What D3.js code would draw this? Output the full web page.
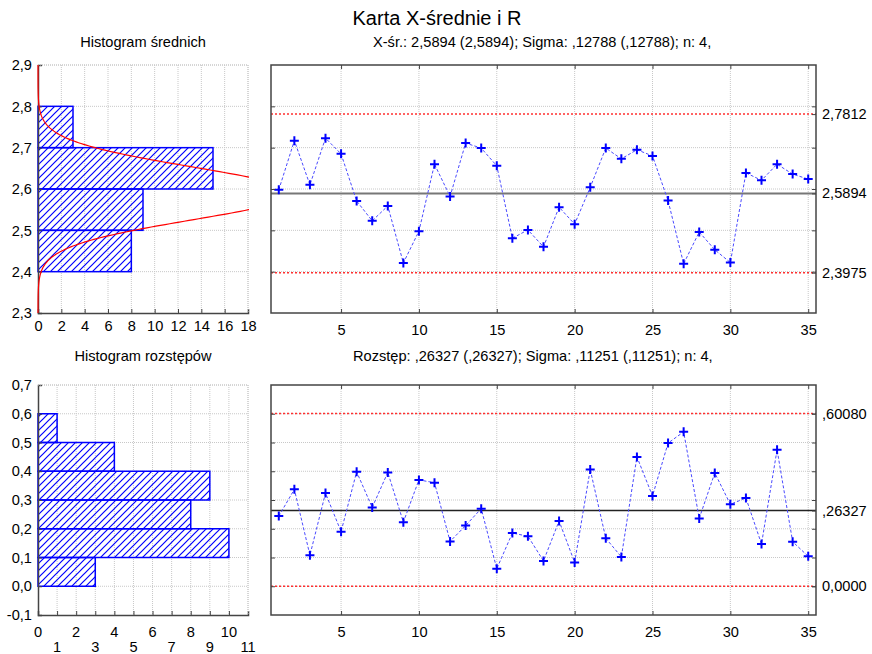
<!DOCTYPE html>
<html>
<head>
<meta charset="utf-8">
<script src="https://cdn.jsdelivr.net/npm/d3@7"></script>
<style>
  body { margin: 0; background: #fff; }
  svg { font-family: "Liberation Sans", Arial, sans-serif; }
</style>
</head>
<body>
<svg id="chart" width="872" height="654"></svg>
<script>
// sample numbers 1..35
const samples = d3.range(1, 36);

// sample means (X-bar)
const means = [2.598, 2.717, 2.610, 2.723, 2.685, 2.571, 2.523, 2.559, 2.421, 2.498,
               2.660, 2.582, 2.711, 2.699, 2.656, 2.481, 2.501, 2.460, 2.556, 2.515,
               2.604, 2.699, 2.673, 2.695, 2.680, 2.572, 2.419, 2.496, 2.453, 2.422,
               2.639, 2.621, 2.660, 2.636, 2.624];

// sample ranges (R)
const ranges = [0.244, 0.337, 0.108, 0.324, 0.190, 0.398, 0.274, 0.396, 0.223, 0.370,
                0.360, 0.156, 0.211, 0.270, 0.061, 0.185, 0.174, 0.088, 0.227, 0.083,
                0.406, 0.167, 0.102, 0.450, 0.314, 0.498, 0.537, 0.236, 0.394, 0.285,
                0.307, 0.147, 0.475, 0.155, 0.104];

// histograms
const meanBinEdges = [2.4, 2.5, 2.6, 2.7, 2.8];
const meanCounts = [8, 9, 15, 3];
const rangeBinEdges = [0, 0.1, 0.2, 0.3, 0.4, 0.5, 0.6];
const rangeCounts = [3, 10, 8, 9, 4, 1];

// control chart parameters
const xbarCenter = 2.5894, xbarUcl = 2.7812, xbarLcl = 2.3975;
const sigma = 0.12788, sampleSize = 4;
const rCenter = 0.26327, rUcl = 0.60080, rLcl = 0;
const xbarLimitLabels = ["2,7812", "2,5894", "2,3975"];
const rLimitLabels = [",60080", ",26327", "0,0000"];

const pl = d3.formatLocale({decimal: ",", thousands: " ", grouping: [3], currency: ["", ""], minus: "-"});
const f1 = pl.format(".1f");

const svg = d3.select("#chart");
const gridColor = "#c8c8c8";
const axisColor = "#444";
const fs = 14.6;

// hatch pattern for histogram bars
svg.append("defs").append("pattern")
    .attr("id", "hatch")
    .attr("patternUnits", "userSpaceOnUse")
    .attr("width", 7).attr("height", 7)
  .append("path")
    .attr("d", "M-1,1 L1,-1 M0,7 L7,0 M6,8 L8,6")
    .attr("stroke", "#0000ff")
    .attr("stroke-width", 1.2);

// titles
svg.append("text").attr("x", 437).attr("y", 25).attr("text-anchor", "middle")
    .attr("font-size", 20).text("Karta X-średnie i R");
svg.append("text").attr("x", 143).attr("y", 47).attr("text-anchor", "middle")
    .attr("font-size", fs).text("Histogram średnich");
svg.append("text").attr("x", 373).attr("y", 47)
    .attr("font-size", fs).text("X-śr.: 2,5894 (2,5894); Sigma: ,12788 (,12788); n: 4,");
svg.append("text").attr("x", 143).attr("y", 361).attr("text-anchor", "middle")
    .attr("font-size", fs).text("Histogram rozstępów");
svg.append("text").attr("x", 353).attr("y", 361)
    .attr("font-size", fs).text("Rozstęp: ,26327 (,26327); Sigma: ,11251 (,11251); n: 4,");

// ---------- helpers ----------
function hGrid(g, y, vals, x0, x1) {
    g.selectAll(null).data(vals).enter().append("line")
        .attr("x1", x0).attr("x2", x1)
        .attr("y1", d => y(d)).attr("y2", d => y(d))
        .attr("stroke", gridColor).attr("stroke-dasharray", "1,1");
}
function vGrid(g, x, vals, y0, y1) {
    g.selectAll(null).data(vals).enter().append("line")
        .attr("x1", d => x(d)).attr("x2", d => x(d))
        .attr("y1", y0).attr("y2", y1)
        .attr("stroke", gridColor).attr("stroke-dasharray", "1,1");
}
function styleAxis(a) {
    a.select(".domain").attr("stroke", axisColor).attr("stroke-width", 1.5);
    a.selectAll(".tick line").attr("stroke", axisColor);
    a.selectAll("text").attr("font-size", fs).attr("fill", "#000")
        .attr("font-family", "Liberation Sans, Arial, sans-serif");
}

// ---------- histogram panel ----------
function histogram(top, bottom, yDomain, yTicks, xMax, xTicks, edges, counts, curve, twoRowLabels) {
    const x = d3.scaleLinear().domain([0, xMax]).range([38, 248]);
    const y = d3.scaleLinear().domain(yDomain).range([bottom, top]);
    const g = svg.append("g");

    hGrid(g, y, yTicks.slice(1), 38, 248);
    vGrid(g, x, xTicks.slice(1), top, bottom);

    g.selectAll("rect.bar").data(counts).enter().append("rect")
        .attr("class", "bar")
        .attr("x", x(0))
        .attr("y", (d, i) => y(edges[i + 1]))
        .attr("width", d => x(d) - x(0))
        .attr("height", (d, i) => y(edges[i]) - y(edges[i + 1]))
        .attr("fill", "url(#hatch)")
        .attr("stroke", "#0000ff").attr("stroke-width", 1.5);

    const ya = g.append("g").attr("transform", "translate(38,0)")
        .call(d3.axisLeft(y).tickValues(yTicks).tickSize(-4).tickPadding(6).tickFormat(f1));
    styleAxis(ya);

    if (twoRowLabels) {
        const xa = g.append("g").attr("transform", `translate(0,${bottom})`)
            .call(d3.axisBottom(x).tickValues(xTicks).tickSize(-4).tickFormat(""));
        styleAxis(xa);
        g.selectAll(null).data(xTicks).enter().append("text")
            .attr("x", d => x(d))
            .attr("y", d => d % 2 === 0 ? bottom + 22 : bottom + 37)
            .attr("text-anchor", "middle").attr("font-size", fs)
            .text(d => d);
    } else {
        const xa = g.append("g").attr("transform", `translate(0,${bottom})`)
            .call(d3.axisBottom(x).tickValues(xTicks).tickSize(-4).tickPadding(8));
        styleAxis(xa);
    }
    // light frame on top and right
    g.append("line").attr("x1", 38).attr("x2", 248).attr("y1", top).attr("y2", top)
        .attr("stroke", gridColor).attr("stroke-dasharray", "1,1");
    g.append("line").attr("x1", 248).attr("x2", 248).attr("y1", top).attr("y2", bottom)
        .attr("stroke", gridColor).attr("stroke-dasharray", "1,1");

    // fitted normal curve for the means (expected counts per bin)
    if (curve) {
        const clipId = "clipHist";
        g.append("clipPath").attr("id", clipId).append("rect")
            .attr("x", 37).attr("y", top).attr("width", 212).attr("height", bottom - top);
        const sd = sigma / Math.sqrt(sampleSize);
        const binW = edges[1] - edges[0];
        const yy = d3.range(yDomain[0], yDomain[1] + 0.0005, 0.002);
        const line = d3.line()
            .x(v => x(means.length * binW * Math.exp(-0.5 * ((v - xbarCenter) / sd) ** 2) / (sd * Math.sqrt(2 * Math.PI))))
            .y(v => y(v));
        g.append("path").datum(yy)
            .attr("clip-path", `url(#${clipId})`)
            .attr("d", line).attr("fill", "none")
            .attr("stroke", "#ff0000").attr("stroke-width", 1.2);
    }
}

// ---------- control chart panel ----------
function controlChart(top, bottom, yDomain, gridVals, values, center, ucl, lcl, limitLabels, centerStyle) {
    const x = d3.scaleLinear().domain([0.5, 35.5]).range([271, 816]);
    const y = d3.scaleLinear().domain(yDomain).range([bottom, top]);
    const g = svg.append("g");
    const xTicks = [5, 10, 15, 20, 25, 30, 35];

    hGrid(g, y, gridVals, 271, 816);
    vGrid(g, x, xTicks, top, bottom);

    // control limits
    g.selectAll(null).data([ucl, lcl]).enter().append("line")
        .attr("x1", 271).attr("x2", 816)
        .attr("y1", d => y(d)).attr("y2", d => y(d))
        .attr("stroke", "#ff3030").attr("stroke-width", 1.5).attr("stroke-dasharray", "2,2");
    g.append("line")
        .attr("x1", 271).attr("x2", 816)
        .attr("y1", y(center)).attr("y2", y(center))
        .attr("stroke", centerStyle.color).attr("stroke-width", centerStyle.width);

    // series
    const line = d3.line().x((d, i) => x(samples[i])).y(d => y(d));
    g.append("path").datum(values)
        .attr("d", line).attr("fill", "none")
        .attr("stroke", "#4a4aff").attr("stroke-width", 1).attr("stroke-dasharray", "3,2");
    g.selectAll("path.plus").data(values).enter().append("path")
        .attr("class", "plus")
        .attr("transform", (d, i) => `translate(${x(samples[i])},${y(d)})`)
        .attr("d", "M-4.5,0H4.5M0,-4.5V4.5")
        .attr("stroke", "#0000ff").attr("stroke-width", 2);

    // frame
    g.append("rect").attr("x", 271).attr("y", top).attr("width", 545).attr("height", bottom - top)
        .attr("fill", "none").attr("stroke", axisColor).attr("stroke-width", 1.5);

    // axes
    const xa = g.append("g").attr("transform", `translate(0,${bottom})`)
        .call(d3.axisBottom(x).tickValues(xTicks).tickSize(-4).tickPadding(12));
    styleAxis(xa);
    xa.select(".domain").remove();
    const xt = g.append("g").attr("transform", `translate(0,${top})`)
        .call(d3.axisTop(x).tickValues(xTicks).tickSize(-4).tickFormat(""));
    styleAxis(xt);
    xt.select(".domain").remove();

    const yl = g.append("g").attr("transform", "translate(271,0)")
        .call(d3.axisLeft(y).tickValues(gridVals).tickSize(-4).tickFormat(""));
    styleAxis(yl);
    yl.select(".domain").remove();
    const yr = g.append("g").attr("transform", "translate(816,0)")
        .call(d3.axisRight(y).tickValues(gridVals.concat([ucl, center, lcl])).tickSize(-4).tickFormat(""));
    styleAxis(yr);
    yr.select(".domain").remove();

    g.selectAll(null).data([ucl, center, lcl]).enter().append("text")
        .attr("x", 822).attr("y", d => y(d)).attr("dy", "0.35em")
        .attr("font-size", fs)
        .text((d, i) => limitLabels[i]);
}

histogram(65, 313, [2.3, 2.9], [2.3, 2.4, 2.5, 2.6, 2.7, 2.8, 2.9],
          18, d3.range(0, 19, 2), meanBinEdges, meanCounts, true, false);
controlChart(65, 313, [2.3, 2.9], [2.4, 2.5, 2.6, 2.7, 2.8],
             means, xbarCenter, xbarUcl, xbarLcl, xbarLimitLabels, {color: "#777", width: 2});

histogram(385, 615, [-0.1, 0.7], [-0.1, 0, 0.1, 0.2, 0.3, 0.4, 0.5, 0.6, 0.7],
          11, d3.range(0, 12), rangeBinEdges, rangeCounts, false, true);
controlChart(385, 615, [-0.1, 0.7], [0, 0.1, 0.2, 0.3, 0.4, 0.5, 0.6],
             ranges, rCenter, rUcl, rLcl, rLimitLabels, {color: "#222", width: 1.5});
</script>
</body>
</html>
